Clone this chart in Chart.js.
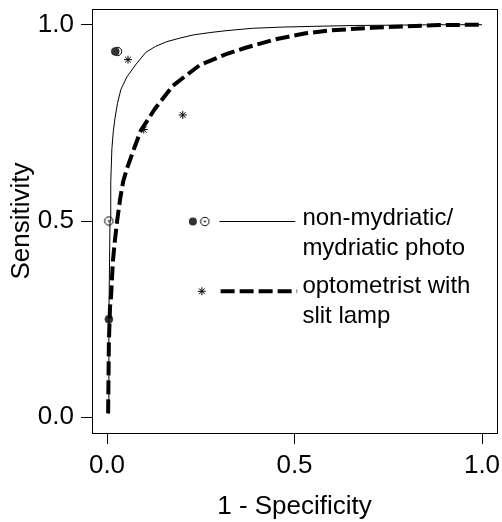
<!DOCTYPE html>
<html>
<head>
<meta charset="utf-8">
<script src="https://cdn.jsdelivr.net/npm/chart.js@4/dist/chart.umd.min.js"></script>
<style>
  body { margin: 0; background: #fff; }
  canvas { display: block; }
</style>
</head>
<body>
<canvas id="roc" width="502" height="522"></canvas>
<script>
// curva ROC: fotografía no midriática / midriática (línea continua)
const photoCurveX = [0.003, 0.005, 0.008, 0.010, 0.013, 0.017, 0.021, 0.028, 0.037, 0.053, 0.078, 0.104, 0.130, 0.160, 0.195, 0.230, 0.275, 0.320, 0.390, 0.470, 0.560, 0.660, 0.780, 0.900, 1.000];
const photoCurveY = [0.010, 0.250, 0.500, 0.600, 0.684, 0.730, 0.760, 0.800, 0.835, 0.867, 0.900, 0.930, 0.945, 0.957, 0.966, 0.974, 0.980, 0.985, 0.991, 0.994, 0.996, 0.998, 0.999, 1.000, 1.000];

// curva ROC: optometrista con lámpara de hendidura (línea discontinua)
const optomCurveX = [0.003, 0.005, 0.008, 0.011, 0.013, 0.016, 0.021, 0.027, 0.035, 0.043, 0.053, 0.072, 0.090, 0.128, 0.176, 0.247, 0.320, 0.372, 0.450, 0.530, 0.600, 0.707, 0.800, 0.886, 1.000];
const optomCurveY = [0.010, 0.190, 0.280, 0.310, 0.350, 0.400, 0.450, 0.500, 0.556, 0.600, 0.633, 0.684, 0.730, 0.786, 0.845, 0.897, 0.926, 0.942, 0.963, 0.978, 0.986, 0.992, 0.996, 0.999, 1.000];

// puntos observados
const photoFilledX = [0.022, 0.005];
const photoFilledY = [0.932, 0.250];
const photoOpenX = [0.028, 0.005];
const photoOpenY = [0.932, 0.500];
const optomStarX = [0.056, 0.098, 0.202];
const optomStarY = [0.911, 0.733, 0.770];

const xTicks = [0.0, 0.5, 1.0];
const yTicks = [0.0, 0.5, 1.0];
const xTitle = '1 - Specificity';
const yTitle = 'Sensitivity';
const legendLabels = [['non-mydriatic/', 'mydriatic photo'], ['optometrist with', 'slit lamp']];

const FONT = "'Liberation Sans', Arial, sans-serif";

function toPoints(xs, ys) {
    return xs.map((x, i) => ({ x: x, y: ys[i] }));
}

// marcador: círculo abierto con punto central
function makeDotCircle() {
    const c = document.createElement('canvas');
    c.width = 11; c.height = 11;
    const g = c.getContext('2d');
    g.beginPath();
    g.arc(5.5, 5.5, 4.2, 0, Math.PI * 2);
    g.fillStyle = '#fff';
    g.fill();
    g.strokeStyle = '#000';
    g.lineWidth = 1;
    g.stroke();
    g.beginPath();
    g.arc(5.5, 5.5, 1, 0, Math.PI * 2);
    g.fillStyle = '#000';
    g.fill();
    return c;
}
const dotCircle = makeDotCircle();

// marco completo y leyenda dentro del gráfico
const framePlugin = {
    id: 'frame',
    afterDatasetsDraw(chart) {
        const { ctx, chartArea: a, scales: { x, y } } = chart;
        ctx.save();
        ctx.strokeStyle = '#000';
        ctx.lineWidth = 1;
        ctx.strokeRect(Math.round(a.left) + 0.5, Math.round(a.top) + 0.5,
            Math.round(a.right - a.left), Math.round(a.bottom - a.top));

        // entrada 1: puntos + línea continua
        const y1 = Math.round(y.getPixelForValue(0.5)) + 0.5;
        ctx.beginPath();
        ctx.arc(x.getPixelForValue(0.229), y1, 4, 0, Math.PI * 2);
        ctx.fillStyle = '#333';
        ctx.fill();
        ctx.drawImage(dotCircle, x.getPixelForValue(0.261) - 5.5, y1 - 5.5);
        ctx.beginPath();
        ctx.moveTo(x.getPixelForValue(0.300), y1);
        ctx.lineTo(x.getPixelForValue(0.502), y1);
        ctx.stroke();

        // entrada 2: asterisco + línea discontinua
        const y2 = y.getPixelForValue(0.321);
        const sx = x.getPixelForValue(0.253);
        ctx.beginPath();
        const r = 4;
        ctx.moveTo(sx - r, y2); ctx.lineTo(sx + r, y2);
        ctx.moveTo(sx, y2 - r); ctx.lineTo(sx, y2 + r);
        ctx.moveTo(sx - r * 0.71, y2 - r * 0.71); ctx.lineTo(sx + r * 0.71, y2 + r * 0.71);
        ctx.moveTo(sx - r * 0.71, y2 + r * 0.71); ctx.lineTo(sx + r * 0.71, y2 - r * 0.71);
        ctx.stroke();
        ctx.beginPath();
        ctx.lineWidth = 4;
        ctx.setLineDash([14, 5]);
        ctx.moveTo(x.getPixelForValue(0.303), y2);
        ctx.lineTo(x.getPixelForValue(0.507), y2);
        ctx.stroke();
        ctx.setLineDash([]);

        // textos
        ctx.fillStyle = '#000';
        ctx.font = '24px ' + FONT;
        ctx.textAlign = 'left';
        ctx.textBaseline = 'middle';
        const tx = x.getPixelForValue(0.521);
        ctx.fillText(legendLabels[0][0], tx, y1 - 3);
        ctx.fillText(legendLabels[0][1], tx, y1 + 27);
        ctx.fillText(legendLabels[1][0], tx, y2 - 5);
        ctx.fillText(legendLabels[1][1], tx, y2 + 25);
        ctx.restore();
    }
};

const ctx = document.getElementById('roc').getContext('2d');
const chart = new Chart(ctx, {
    type: 'scatter',
    data: {
        datasets: [
            {
                label: 'photo curve',
                data: toPoints(photoCurveX, photoCurveY),
                showLine: true,
                borderColor: '#000',
                borderWidth: 1,
                pointRadius: 0,
                tension: 0
            },
            {
                label: 'optometrist curve',
                data: toPoints(optomCurveX, optomCurveY),
                showLine: true,
                borderColor: '#000',
                borderWidth: 4,
                borderDash: [14, 5],
                pointRadius: 0,
                tension: 0
            },
            {
                label: 'photo filled',
                data: toPoints(photoFilledX, photoFilledY),
                pointStyle: 'circle',
                pointRadius: 4,
                backgroundColor: '#333',
                borderColor: '#222',
                borderWidth: 0.5
            },
            {
                label: 'photo open',
                data: toPoints(photoOpenX, photoOpenY),
                pointStyle: dotCircle
            },
            {
                label: 'optometrist points',
                data: toPoints(optomStarX, optomStarY),
                pointStyle: 'star',
                pointRadius: 4,
                borderColor: '#000',
                borderWidth: 1
            }
        ]
    },
    options: {
        responsive: false,
        animation: false,
        layout: { padding: { top: 9, right: 4, left: 0, bottom: 0 } },
        plugins: { legend: { display: false }, tooltip: { enabled: false } },
        scales: {
            x: {
                type: 'linear',
                min: -0.04,
                max: 1.04,
                afterBuildTicks: s => { s.ticks = xTicks.map(v => ({ value: v })); },
                afterFit: s => { s.height = 89; s.paddingLeft = 0; s.paddingRight = 0; },
                ticks: {
                    callback: v => Number(v).toFixed(1),
                    color: '#000',
                    font: { family: FONT, size: 26 },
                    padding: 6,
                    maxRotation: 0
                },
                grid: { drawOnChartArea: false, drawTicks: true, tickLength: 11, color: '#000' },
                border: { display: false },
                title: {
                    display: true,
                    text: xTitle,
                    color: '#000',
                    font: { family: FONT, size: 26 },
                    padding: { top: 0, bottom: 0 }
                }
            },
            y: {
                type: 'linear',
                min: -0.04,
                max: 1.04,
                afterBuildTicks: s => { s.ticks = yTicks.map(v => ({ value: v })); },
                afterFit: s => { s.width = 92; s.paddingTop = 0; s.paddingBottom = 0; },
                ticks: {
                    callback: v => Number(v).toFixed(1),
                    color: '#000',
                    font: { family: FONT, size: 26 },
                    padding: 7
                },
                grid: { drawOnChartArea: false, drawTicks: true, tickLength: 11, color: '#000' },
                border: { display: false },
                title: {
                    display: true,
                    text: yTitle,
                    color: '#000',
                    font: { family: FONT, size: 26 },
                    padding: { top: 6, bottom: 0 }
                }
            }
        }
    },
    plugins: [framePlugin]
});
</script>
</body>
</html>
